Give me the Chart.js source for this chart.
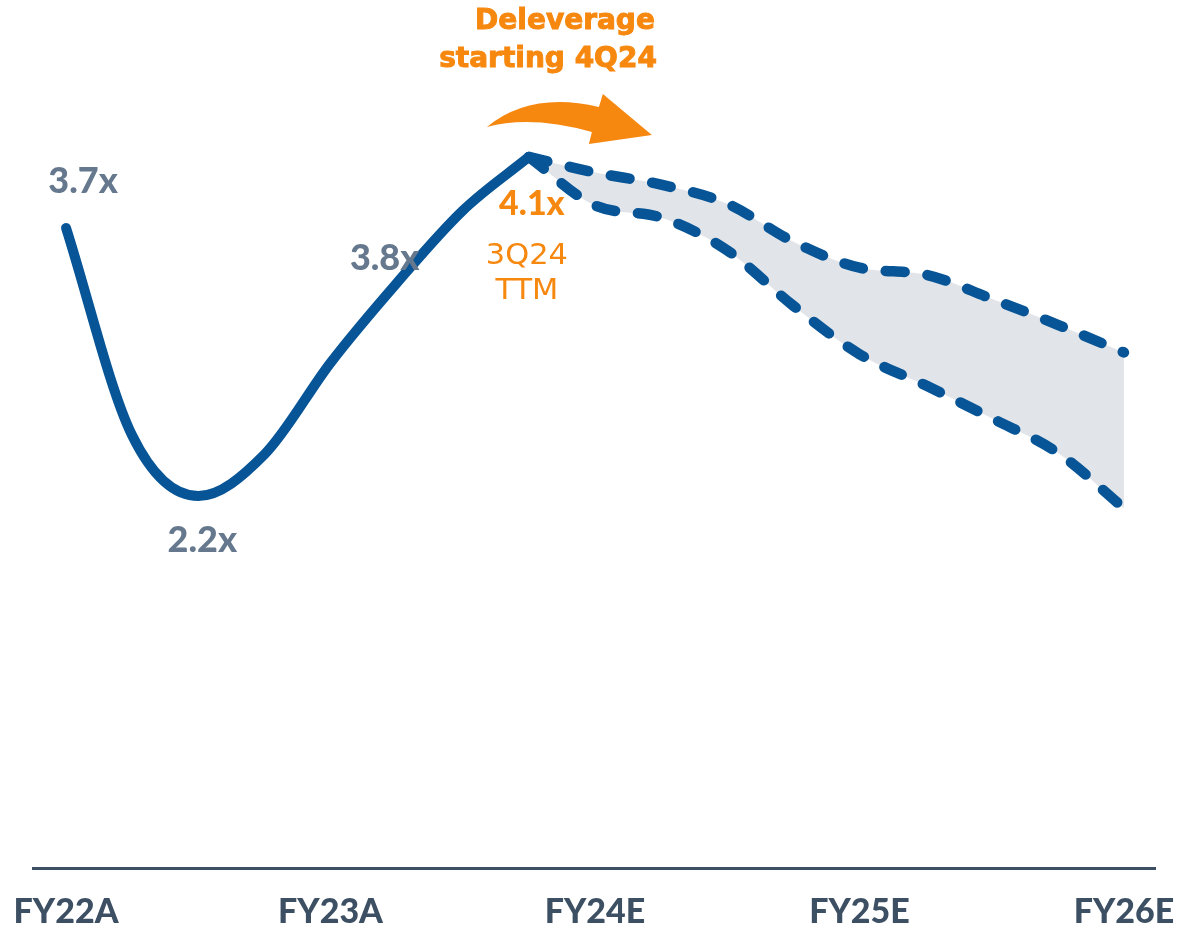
<!DOCTYPE html>
<html>
<head>
<meta charset="utf-8">
<script src="https://cdn.jsdelivr.net/npm/chart.js@4.4.1/dist/chart.umd.min.js"></script>
<style>
  html, body { margin: 0; padding: 0; background: #fff; }
  #wrap { width: 1179px; height: 925px; position: relative; }
</style>
</head>
<body>
<div id="wrap"><canvas id="chart" width="1179" height="925"></canvas></div>
<script>
// fiscal years on the axis, four quarters each
const years = ["FY22A", "FY23A", "FY24E", "FY25E", "FY26E"];
const quartersPerYear = 4;

// net leverage (x), quarterly, from FY22A to 3Q24 TTM
const actual = [3.70, 2.50, 2.15, 2.39, 2.92, 3.38, 3.80, 4.11];

// outlook band from 3Q24 TTM to FY26E
const bandStart = 7;
const bandHigh = [4.11, 4.02, 3.95, 3.84, 3.62, 3.47, 3.43, 3.29, 3.14, 2.98];
const bandLow  = [4.11, 3.83, 3.76, 3.57, 3.25, 2.97, 2.79, 2.60, 2.40, 2.08];

// point labels
const callouts = [
  { i: 0, text: "3.7x" },
  { i: 2, text: "2.2x" },
  { i: 5, text: "3.8x" },
  { i: 7, text: "4.1x" }
];
const peakNote = ["3Q24", "TTM"];
const arrowNote = ["Deleverage", "starting 4Q24"];

const BLUE = "#075597";
const GREY = "#65788d";
const ORANGE = "#f7880f";
const AXIS = "#3d4f63";
const BAND = "#e1e4e9";

const toPts = (arr, start) => arr.map((v, k) => ({ x: start + k, y: v }));

const yearTicks = years.map((y, k) => k * quartersPerYear);

// offsets of the callouts from their points, px
const calloutStyle = {
  0: { dx: 17, dy: -47, color: GREY, size: 36 },
  2: { dx: 4, dy: 44, color: GREY, size: 36 },
  5: { dx: -12, dy: -25, color: GREY, size: 36 },
  7: { dx: 3, dy: 47, color: ORANGE, size: 34 }
};

function putText(ctx, text, x, y, sx, sy) {
  ctx.save();
  ctx.translate(x, y);
  ctx.scale(sx, sy);
  ctx.fillText(text, 0, 0);
  ctx.restore();
}

const notesPlugin = {
  id: "notes",
  afterDatasetsDraw(chart) {
    const ctx = chart.ctx;
    const xs = chart.scales.x, ys = chart.scales.y;
    ctx.save();
    ctx.textAlign = "center";
    ctx.textBaseline = "middle";
    callouts.forEach(c => {
      const st = calloutStyle[c.i];
      const px = xs.getPixelForValue(c.i);
      const py = ys.getPixelForValue(actual[c.i]);
      ctx.fillStyle = st.color;
      ctx.font = "900 " + st.size + "px Lato";
      ctx.fillText(c.text, px + st.dx, py + st.dy);
    });

    // 3Q24 TTM under the peak
    const pk = actual.length - 1;
    const px = xs.getPixelForValue(pk);
    const py = ys.getPixelForValue(actual[pk]);
    ctx.fillStyle = ORANGE;
    ctx.font = "29px 'DejaVu Sans'";
    putText(ctx, peakNote[0], px - 2, py + 99, 1.05, 1);
    putText(ctx, peakNote[1], px - 2, py + 134, 1.05, 1);

    // deleverage heading
    ctx.font = "bold 28px 'DejaVu Sans'";
    ctx.textAlign = "right";
    ctx.strokeStyle = ORANGE;
    ctx.lineWidth = 1;
    [[arrowNote[0], 126, -135], [arrowNote[1], 128, -97]].forEach(([t, dx, dy]) => {
      ctx.fillText(t, px + dx, py + dy);
      ctx.strokeText(t, px + dx, py + dy);
    });

    // curved arrow
    const ax = px, ay = py;
    ctx.beginPath();
    ctx.moveTo(ax - 42, ay - 30);
    ctx.quadraticCurveTo(ax + 2, ay - 66, ax + 70, ay - 50);
    ctx.lineTo(ax + 74, ay - 63);
    ctx.lineTo(ax + 123, ay - 22);
    ctx.lineTo(ax + 60, ay - 13);
    ctx.lineTo(ax + 63, ay - 25);
    ctx.quadraticCurveTo(ax + 2, ay - 42, ax - 42, ay - 30);
    ctx.closePath();
    ctx.fill();
    ctx.restore();
  }
};

new Chart(document.getElementById("chart"), {
  type: "line",
  data: {
    datasets: [
      {
        label: "High",
        data: toPts(bandHigh, bandStart),
        borderColor: BLUE,
        borderWidth: 10.5,
        borderDash: [19, 23],
        borderCapStyle: "round",
        backgroundColor: BAND,
        fill: "+1",
        pointRadius: 0,
        cubicInterpolationMode: "monotone",
        order: 2
      },
      {
        label: "Low",
        data: toPts(bandLow, bandStart),
        borderColor: BLUE,
        borderWidth: 10.5,
        borderDash: [19, 23],
        borderCapStyle: "round",
        fill: false,
        pointRadius: 0,
        cubicInterpolationMode: "monotone",
        order: 3
      },
      {
        label: "Net leverage",
        data: toPts(actual, 0),
        borderColor: BLUE,
        borderWidth: 10,
        borderCapStyle: "round",
        borderJoinStyle: "round",
        fill: false,
        pointRadius: 0,
        cubicInterpolationMode: "monotone",
        order: 1
      }
    ]
  },
  options: {
    responsive: false,
    animation: false,
    layout: { padding: { left: 33, right: 24, top: 3, bottom: 0 } },
    plugins: {
      legend: { display: false },
      tooltip: { enabled: false },
      filler: { drawTime: "beforeDatasetsDraw" }
    },
    scales: {
      y: { display: false, min: 0, max: 5 },
      x: {
        type: "linear",
        min: -0.5,
        max: 16.47,
        grid: { display: false, drawTicks: false },
        border: { display: true, color: AXIS, width: 3 },
        afterBuildTicks: s => { s.ticks = yearTicks.map(v => ({ value: v })); },
        afterFit: s => { s.paddingLeft = 0; s.paddingRight = 0; s.height = 57; },
        ticks: {
          padding: 24,
          autoSkip: false,
          maxRotation: 0,
          color: AXIS,
          font: { family: "Lato", size: 34, weight: "900" },
          callback: v => years[v / quartersPerYear]
        }
      }
    }
  },
  plugins: [notesPlugin]
});
</script>
</body>
</html>
